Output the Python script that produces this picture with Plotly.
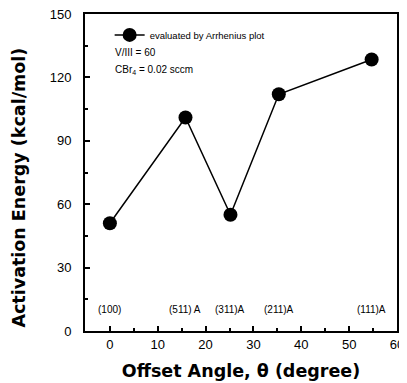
import plotly.graph_objects as go

angles = [0, 15.8, 25.2, 35.3, 54.7]
energy = [51, 101, 55, 112, 128.5]
planes = ["(100)", "(511) A", "(311)A", "(211)A", "(111)A"]
label_y = 10

fig = go.Figure()
fig.add_trace(go.Scatter(
    x=angles, y=energy, mode="lines+markers",
    name="evaluated by Arrhenius plot",
    line=dict(color="black", width=1.5),
    marker=dict(color="black", size=14),
))

txt_font = dict(size=10, color="black", family="Liberation Sans")
annos = []
for a, p in zip(angles, planes):
    annos.append(dict(x=a, y=label_y, text=p, showarrow=False, xref="x", yref="y", font=txt_font))
annos.append(dict(x=0.09, y=0.877, xref="paper", yref="paper", xanchor="left", yanchor="middle",
                  text="V/III = 60", showarrow=False, font=txt_font))
annos.append(dict(x=0.09, y=0.823, xref="paper", yref="paper", xanchor="left", yanchor="middle",
                  text="CBr<sub>4</sub> = 0.02 sccm", showarrow=False, font=txt_font))
# y-axis title (sits slightly below centre in the reference)
annos.append(dict(x=-0.21, y=0.454, xref="paper", yref="paper", xanchor="center", yanchor="middle",
                  text="Activation Energy (kcal/mol)", textangle=-90, showarrow=False,
                  font=dict(size=17.5, color="black", family="DejaVu Sans", weight="bold")))

axis_common = dict(
    showgrid=False, zeroline=False, showline=True, linecolor="black", linewidth=2,
    mirror=True, ticks="inside", ticklen=5, tickwidth=1.5, tickcolor="black",
    automargin=False, ticklabeloverflow="allow",
    tickfont=dict(size=13, color="black", family="Liberation Sans"),
)

# page body has an 8px default margin, so the figure is sized/offset to compensate
fig.update_layout(
    width=399, height=375,
    margin=dict(l=77, r=10, t=6, b=52),
    plot_bgcolor="white", paper_bgcolor="white",
    showlegend=True,
    legend=dict(x=0.079, y=0.934, xanchor="left", yanchor="middle", bgcolor="rgba(0,0,0,0)",
                font=dict(size=9.5, color="black", family="Liberation Sans"),
                itemwidth=30, tracegroupgap=0),
    annotations=annos,
    xaxis=dict(range=[-5.2, 60], tick0=0, dtick=10,
               minor=dict(dtick=5, ticks="inside", ticklen=3, tickcolor="black"),
               title=dict(text="Offset Angle, θ (degree)", standoff=14,
                          font=dict(size=17.5, color="black", family="DejaVu Sans", weight="bold")),
               **axis_common),
    yaxis=dict(range=[0, 150], tick0=0, dtick=30, ticklabelstandoff=9,
               minor=dict(dtick=15, ticks="inside", ticklen=3, tickcolor="black"),
               **axis_common),
)

fig.write_html("out.html")
